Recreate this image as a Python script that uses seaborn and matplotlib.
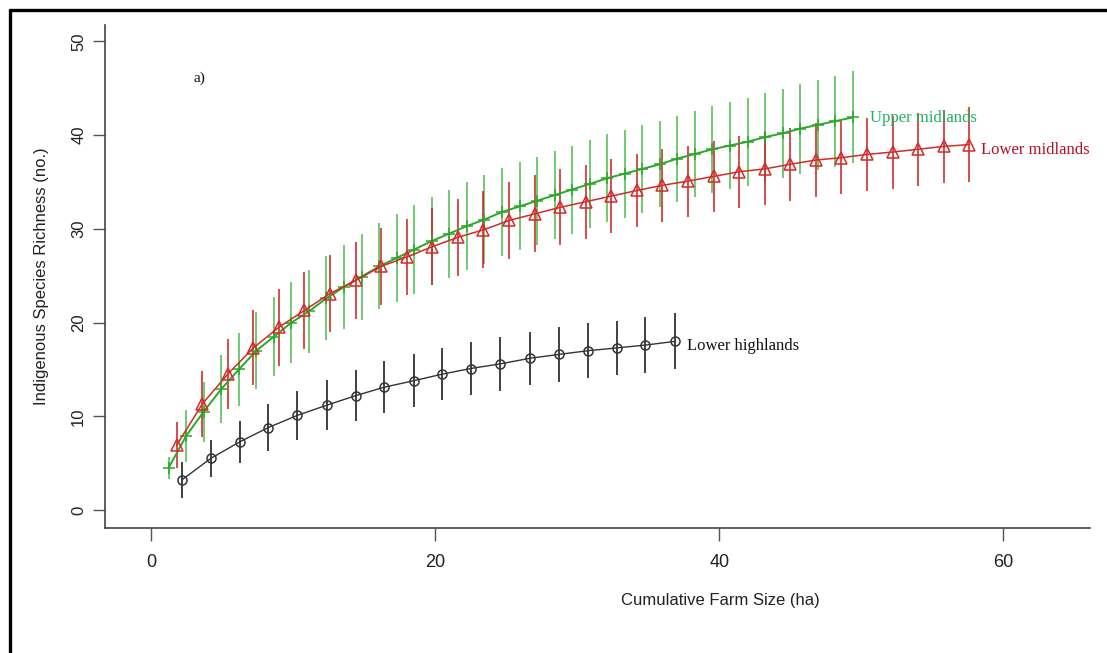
import matplotlib
matplotlib.use("Agg")
import matplotlib.pyplot as plt
from matplotlib import font_manager
from matplotlib.lines import Line2D
import seaborn as sns
import pandas as pd

# Lower highlands (black, circles)
black_x = [2.16, 4.2, 6.27, 8.26, 10.3, 12.4, 14.4, 16.4, 18.5, 20.5, 22.5, 24.6,
           26.7, 28.7, 30.75, 32.8, 34.8, 36.9]
black_y = [3.2, 5.5, 7.3, 8.8, 10.1, 11.2, 12.2, 13.1, 13.8, 14.5, 15.1, 15.6,
           16.2, 16.6, 17.0, 17.3, 17.6, 18.0]
black_sd = [1.9, 2.0, 2.25, 2.5, 2.6, 2.7, 2.75, 2.8, 2.8, 2.8, 2.85, 2.9,
            2.85, 2.95, 2.95, 2.9, 3.0, 3.0]

# Lower midlands (red, triangles)
red_x = [1.8, 3.6, 5.4, 7.2, 9.0, 10.8, 12.6, 14.4, 16.2, 18.0, 19.8, 21.6,
         23.4, 25.2, 27.0, 28.8, 30.6, 32.4, 34.2, 36.0, 37.8, 39.6, 41.4, 43.2,
         45.0, 46.8, 48.6, 50.4, 52.2, 54.0, 55.8, 57.6]
red_y = [6.9, 11.3, 14.5, 17.3, 19.5, 21.3, 23.1, 24.5, 26.0, 27.0, 28.1, 29.1,
         29.9, 30.9, 31.6, 32.3, 32.9, 33.5, 34.1, 34.65, 35.1, 35.6, 36.1, 36.4,
         36.9, 37.35, 37.6, 37.95, 38.2, 38.5, 38.8, 39.0]
red_sd = [2.45, 3.5, 3.75, 4.0, 4.1, 4.1, 4.1, 4.1, 4.1, 4.1, 4.1, 4.1,
          4.1, 4.1, 4.1, 4.05, 3.95, 3.95, 3.9, 3.9, 3.8, 3.8, 3.85, 3.9,
          3.9, 3.9, 3.9, 3.9, 3.9, 3.9, 3.9, 4.0]

# Upper midlands (green, plus)
green_x = [1.24, 2.47, 3.71, 4.94, 6.18, 7.41, 8.65, 9.88, 11.12, 12.35, 13.59, 14.82,
           16.06, 17.29, 18.53, 19.76, 21.0, 22.23, 23.47, 24.7, 25.94, 27.17, 28.41, 29.64,
           30.88, 32.11, 33.35, 34.58, 35.82, 37.05, 38.29, 39.52, 40.76, 41.99, 43.23, 44.46,
           45.7, 46.93, 48.17, 49.4]
green_y = [4.5, 7.9, 10.5, 12.9, 15.0, 17.0, 18.5, 20.0, 21.2, 22.6, 23.8, 24.9,
           26.0, 26.9, 27.8, 28.7, 29.5, 30.3, 31.0, 31.8, 32.4, 33.0, 33.6, 34.2,
           34.8, 35.4, 35.9, 36.4, 36.9, 37.5, 38.0, 38.5, 38.9, 39.3, 39.8, 40.2,
           40.7, 41.1, 41.5, 41.9]
green_sd = [1.2, 2.75, 3.2, 3.6, 3.9, 4.1, 4.2, 4.3, 4.4, 4.5, 4.5, 4.6,
            4.6, 4.7, 4.7, 4.7, 4.7, 4.7, 4.7, 4.7, 4.7, 4.7, 4.7, 4.7,
            4.7, 4.7, 4.7, 4.65, 4.6, 4.6, 4.6, 4.65, 4.65, 4.7, 4.7, 4.75,
            4.8, 4.8, 4.85, 4.9]

x_ticks = [0, 20, 40, 60]
y_ticks = [0, 10, 20, 30, 40, 50]

sns.set_theme(style="white")
names = {f.name for f in font_manager.fontManager.ttflist}
narrow = "Liberation Sans Narrow" if "Liberation Sans Narrow" in names else "Liberation Sans"
plt.rcParams['font.family'] = ['Liberation Sans', 'DejaVu Sans']

fig = plt.figure(figsize=(11.07, 6.53), dpi=100)
ax = fig.add_axes([105 / 1107, 1 - 528 / 653, 985 / 1107, 503 / 653])

series = [
    (green_x, green_y, green_sd, "#2aa82a", "#4cbe4c", "+", 8, 1.4),
    (red_x, red_y, red_sd, "#d42a2a", "#cc2020", "^", 8, 1.1),
    (black_x, black_y, black_sd, "#333333", "#111111", "o", 6.5, 1.0),
]
for xs, ys, sds, line_col, bar_col, mk, ms, lw in series:
    df = pd.DataFrame({"x": xs, "y": ys, "sd": sds})
    ax.vlines(df["x"], df["y"] - df["sd"], df["y"] + df["sd"], color=bar_col,
              lw=1.4, alpha=0.8, zorder=2)
    sns.lineplot(data=df, x="x", y="y", ax=ax, color=line_col, lw=lw, marker=mk,
                 markersize=ms, markerfacecolor="none", markeredgecolor=line_col,
                 markeredgewidth=1.1, sort=False, zorder=3)

ax.set_xlim(-3.24, 66.1)
ax.set_ylim(-1.92, 51.76)
ax.set_xticks(x_ticks)
ax.set_yticks(y_ticks)
ax.set_xticklabels([str(t) for t in x_ticks], fontfamily=narrow, fontsize=13)
ax.set_yticklabels([str(t) for t in y_ticks], rotation=90, va="center", fontsize=12)
ax.tick_params(axis="x", direction="out", length=9, width=1, color="#555555", pad=10, labelcolor="#222222")
ax.tick_params(axis="y", direction="out", length=9, width=1, color="#555555", pad=4.5, labelcolor="#222222")
ax.tick_params(bottom=True, left=True)
for s in ["top", "right"]:
    ax.spines[s].set_visible(False)
for s in ["left", "bottom"]:
    ax.spines[s].set_color("#444444")
    ax.spines[s].set_linewidth(1.2)

ax.set_xlabel("Cumulative Farm Size (ha)", fontfamily=narrow, fontsize=12, color="#222222")
ax.set_ylabel("Indigenous Species Richness (no.)", fontsize=12, color="#222222")
ax.xaxis.set_label_coords(0.625, -0.13)
ax.yaxis.set_label_coords(-0.057, 0.5)

serif = "Liberation Serif"
ax.text(50.6, 41.8, "Upper midlands", color="#22b060", fontsize=12, fontfamily=serif, va="center")
ax.text(58.4, 38.4, "Lower midlands", color="#b0102a", fontsize=12, fontfamily=serif, va="center")
ax.text(37.7, 17.5, "Lower highlands", color="#111111", fontsize=12, fontfamily=serif, va="center")
ax.text(2.96, 46.1, "a)", color="#111111", fontsize=11, fontfamily=serif, va="center")

# cropped outer frame (top and left edges)
fig.add_artist(Line2D([10 / 1107, 1.0], [1 - 10 / 653, 1 - 10 / 653], color="black", lw=2.4))
fig.add_artist(Line2D([10 / 1107, 10 / 1107], [1 - 10 / 653, 0.0], color="black", lw=2.4))

fig.savefig("out.png", dpi=100)
